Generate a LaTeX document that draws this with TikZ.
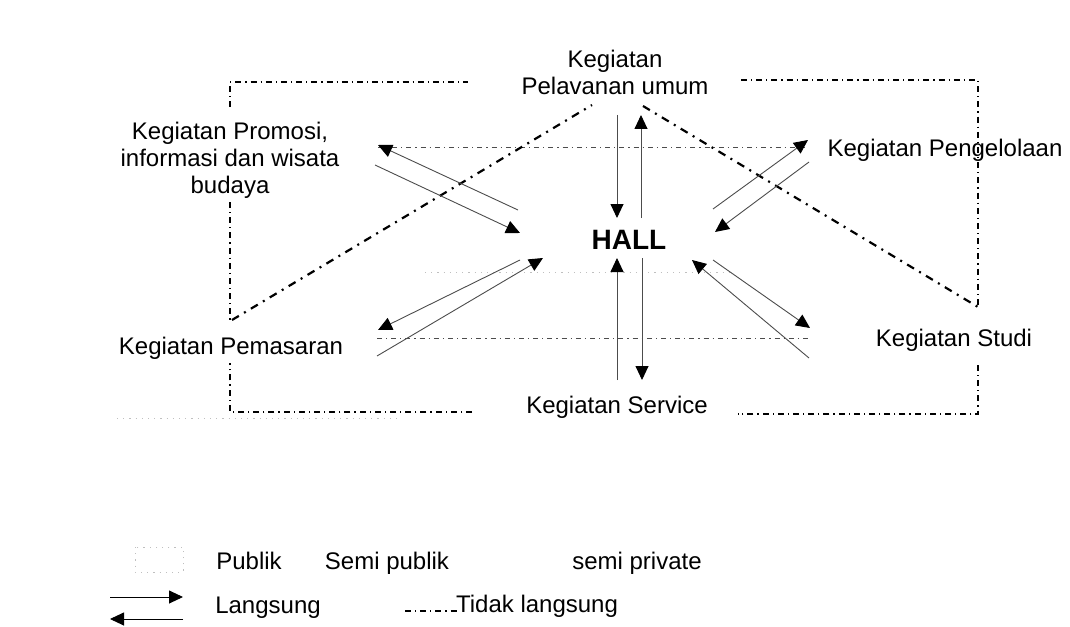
\documentclass[tikz,border=0pt]{standalone}
\usepackage{fontspec}
\setmainfont{Liberation Sans}
\usetikzlibrary{arrows.meta}

\begin{document}
\begin{tikzpicture}[x=0.5pt,y=-0.5pt,>={Triangle[length=7pt,width=6.5pt,color=black]},
  every node/.style={align=center,inner sep=0pt,font=\fontsize{12}{13.5}\selectfont},
  frame/.style={line width=0.6pt,dash pattern=on 3pt off 2pt on 0.6pt off 2pt},
  zone/.style={line width=0.5pt,black!70,dash pattern=on 2.5pt off 2pt on 0.6pt off 2pt},
  faint/.style={black!25,line width=0.4pt,dash pattern=on 0.6pt off 2.5pt},
  indirect/.style={line width=1.1pt,dash pattern=on 4pt off 3pt on 1pt off 3pt},
  flow/.style={->,black!70,line width=0.45pt},
  legend/.style={anchor=base}]
\useasboundingbox (0,0) rectangle (1070,626);

\node (pel) at (615,72) {Kegiatan\\Pelavanan umum};
\node (promo) at (230,160) {Kegiatan Promosi,\\informasi dan wisata\\budaya};
\node (kelola) at (945,150) {Kegiatan Pengelolaan};
\node[font=\fontsize{14}{16}\selectfont\bfseries] (hall) at (629,240) {HALL};
\node (pasar) at (231,348) {Kegiatan Pemasaran};
\node (studi) at (954,340) {Kegiatan Studi};
\node (serv) at (617,407) {Kegiatan Service};

% batas semi private
\draw[frame] (230,107) -- (230,82) -- (468,82);
\draw[frame] (741,80) -- (978,80) -- (978,307);
\draw[frame] (978,365) -- (978,414) -- (738,414);
\draw[frame] (472,412) -- (230,412) -- (230,363);
\draw[frame] (230,202) -- (230,320);

% batas semi publik / publik
\draw[zone] (378,147) -- (805,147);
\draw[zone] (377,338) -- (808,338);
\draw[faint] (425,272) -- (730,272);
\draw[faint] (117,418) -- (400,418);

% tidak langsung
\coordinate (a1) at (232,320);
\coordinate (a2) at (592,105);
\coordinate (b1) at (643,106);
\coordinate (b2) at (978,307);
\draw[indirect] (a1) -- (a2);
\draw[indirect] (b1) -- (b2);

% langsung
\coordinate (pel1) at (617,115);
\coordinate (pel2) at (617,218);
\coordinate (pel3) at (641,218);
\coordinate (pel4) at (641,115);
\draw[flow] (pel1) -- (pel2);
\draw[flow] (pel3) -- (pel4);
\coordinate (sv1) at (617,380);
\coordinate (sv2) at (617,258);
\coordinate (sv3) at (642,258);
\coordinate (sv4) at (642,380);
\draw[flow] (sv1) -- (sv2);
\draw[flow] (sv3) -- (sv4);
\coordinate (pr1) at (518,210);
\coordinate (pr2) at (378,145);
\coordinate (pr3) at (375,165);
\coordinate (pr4) at (520,233);
\draw[flow] (pr1) -- (pr2);
\draw[flow] (pr3) -- (pr4);
\coordinate (kl1) at (713,209);
\coordinate (kl2) at (808,140);
\coordinate (kl3) at (809,162);
\coordinate (kl4) at (715,232);
\draw[flow] (kl1) -- (kl2);
\draw[flow] (kl3) -- (kl4);
\coordinate (ps1) at (520,260);
\coordinate (ps2) at (378,330);
\coordinate (ps3) at (377,356);
\coordinate (ps4) at (543,258);
\draw[flow] (ps1) -- (ps2);
\draw[flow] (ps3) -- (ps4);
\coordinate (st1) at (809,358);
\coordinate (st2) at (692,260);
\coordinate (st3) at (713,260);
\coordinate (st4) at (810,328);
\draw[flow] (st1) -- (st2);
\draw[flow] (st3) -- (st4);

% keterangan
\draw[faint] (135,547) rectangle (183,572);
\node[legend] (lpub) at (249,569) {Publik};
\node[legend] (lsemi) at (387,569) {Semi publik};
\node[legend] (lpriv) at (637,569) {semi private};
\coordinate (lg1) at (110,597);
\coordinate (lg2) at (183,597);
\coordinate (lg3) at (183,619);
\coordinate (lg4) at (110,619);
\draw[flow,black] (lg1) -- (lg2);
\draw[flow,black] (lg3) -- (lg4);
\node[legend] (llang) at (268,613) {Langsung};
\draw[frame] (405,611) -- (460,611);
\node[legend] (ltidak) at (537,612) {Tidak langsung};
\end{tikzpicture}
\end{document}
